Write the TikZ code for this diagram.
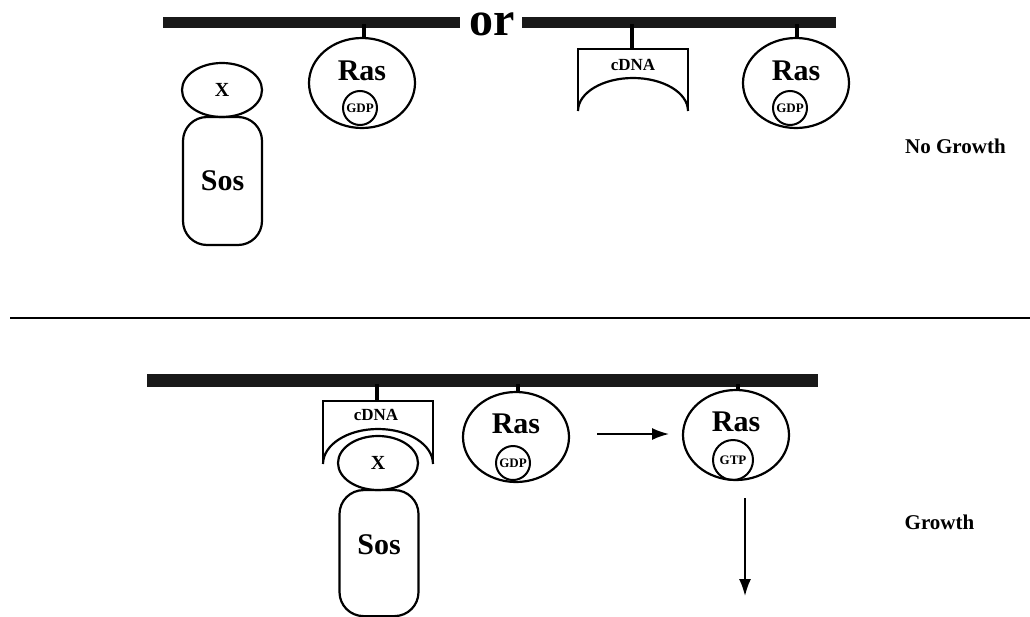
\documentclass[tikz,border=0pt]{standalone}
\usepackage{fontspec}
\setmainfont{Liberation Serif}
\usetikzlibrary{arrows.meta,shapes.geometric}
\begin{document}
\begin{tikzpicture}[x=1pt,y=-1pt,
  membrane/.style={line width=11pt,draw=black!90},
  stem/.style={line width=3.5pt},
  outline/.style={line width=2.2pt},
  rasbody/.style={ellipse,draw,line width=2.2pt,minimum width=106pt,minimum height=90pt,inner sep=0pt},
  nucl/.style={circle,draw,line width=2pt,minimum size=34pt,inner sep=0pt,font=\bfseries\fontsize{13}{13}\selectfont},
  bigtxt/.style={font=\bfseries\fontsize{30}{30}\selectfont},
  xbody/.style={ellipse,draw,line width=2.2pt,minimum width=80pt,minimum height=54pt,inner sep=0pt,font=\bfseries\fontsize{20}{20}\selectfont},
  sosbody/.style={rectangle,draw,line width=2.2pt,rounded corners=24pt,minimum width=79pt,inner sep=0pt,bigtxt},
  smalltxt/.style={font=\bfseries\fontsize{17}{17}\selectfont},
  label/.style={font=\bfseries\fontsize{21}{21}\selectfont},
  arrowline/.style={line width=1.8pt,-{Latex[length=17pt,width=12pt]}}
]
\useasboundingbox (0,0) rectangle (1030,616);

% ---------- top panel ----------
\coordinate (mLa) at (163,22);
\coordinate (mLb) at (460,22);
\coordinate (mRa) at (522,22);
\coordinate (mRb) at (836,22);
\draw[membrane] (mLa) -- (mLb);
\draw[membrane] (mRa) -- (mRb);
\node[font=\bfseries\fontsize{48}{48}\selectfont,anchor=base,inner sep=0pt] (or) at (492,35) {or};

% Ras (left)
\node[rasbody] (ras1) at (362,83) {};
\node[bigtxt] (ras1t) at (362,71) {Ras};
\node[nucl] (gdp1) at (360,108) {GDP};
\coordinate (a1) at (364,24);
\draw[stem] (a1) -- (ras1.north -| a1);

% X and Sos (left, free)
\node[xbody] (x1) at (222,90) {X};
\node[sosbody,minimum height=128pt] (sos1) at (222.5,181) {Sos};

% cDNA (right)
\coordinate (a2) at (632,24);
\coordinate (c1) at (632,49);
\draw[stem] (a2) -- (c1);
\draw[outline] (578,111) -- (578,49) -- (688,49) -- (688,111);
\draw[outline] (578,111) arc[start angle=180,end angle=0,x radius=55pt,y radius=33pt];
\node[smalltxt] (cdna1) at (633,65) {cDNA};

% Ras (right)
\node[rasbody] (ras2) at (796,83) {};
\node[bigtxt] (ras2t) at (796,71) {Ras};
\node[nucl] (gdp2) at (790,108) {GDP};
\coordinate (a3) at (797,24);
\draw[stem] (a3) -- (ras2.north -| a3);

\node[label] (ng) at (955.5,146) {No Growth};

% ---------- divider ----------
\coordinate (d1) at (10,318);
\coordinate (d2) at (1030,318);
\draw[line width=1.4pt] (d1) -- (d2);

% ---------- bottom panel ----------
\coordinate (mBa) at (147,380);
\coordinate (mBb) at (818,380);
\draw[membrane,line width=13pt] (mBa) -- (mBb);

% cDNA bracket
\coordinate (a4) at (377,384);
\coordinate (c2) at (377,401);
\draw[stem] (a4) -- (c2);
\draw[outline] (323,464) -- (323,401) -- (433,401) -- (433,464);
\draw[outline] (323,464) arc[start angle=180,end angle=0,x radius=55pt,y radius=35pt];
\node[smalltxt] (cdna2) at (376,415) {cDNA};

% X and Sos bound
\node[xbody] (x2) at (378,463) {X};
\node[sosbody,minimum height=126pt,anchor=north] (sos2) at (379,489) {};
\node[bigtxt] (sos2t) at (379,545) {Sos};

% Ras GDP
\node[rasbody] (ras3) at (516,437) {};
\node[bigtxt] (ras3t) at (516,424) {Ras};
\node[nucl] (gdp3) at (513,463) {GDP};
\coordinate (a5) at (518,384);
\draw[stem] (a5) -- (ras3.north -| a5);

% Ras GTP
\node[rasbody] (ras4) at (736,435) {};
\node[bigtxt] (ras4t) at (736,422) {Ras};
\node[nucl,minimum size=40pt] (gtp) at (733,460) {GTP};
\coordinate (a6) at (738,384);
\draw[stem] (a6) -- (ras4.north -| a6);

% arrows
\coordinate (h1) at (597,434);
\coordinate (h2) at (669,434);
\draw[arrowline] (h1) -- (h2);
\coordinate (dn1) at (745,498);
\coordinate (dn2) at (745,596);
\draw[arrowline] (dn1) -- (dn2);

\node[label] (gr) at (939.5,522) {Growth};
\end{tikzpicture}
\end{document}
